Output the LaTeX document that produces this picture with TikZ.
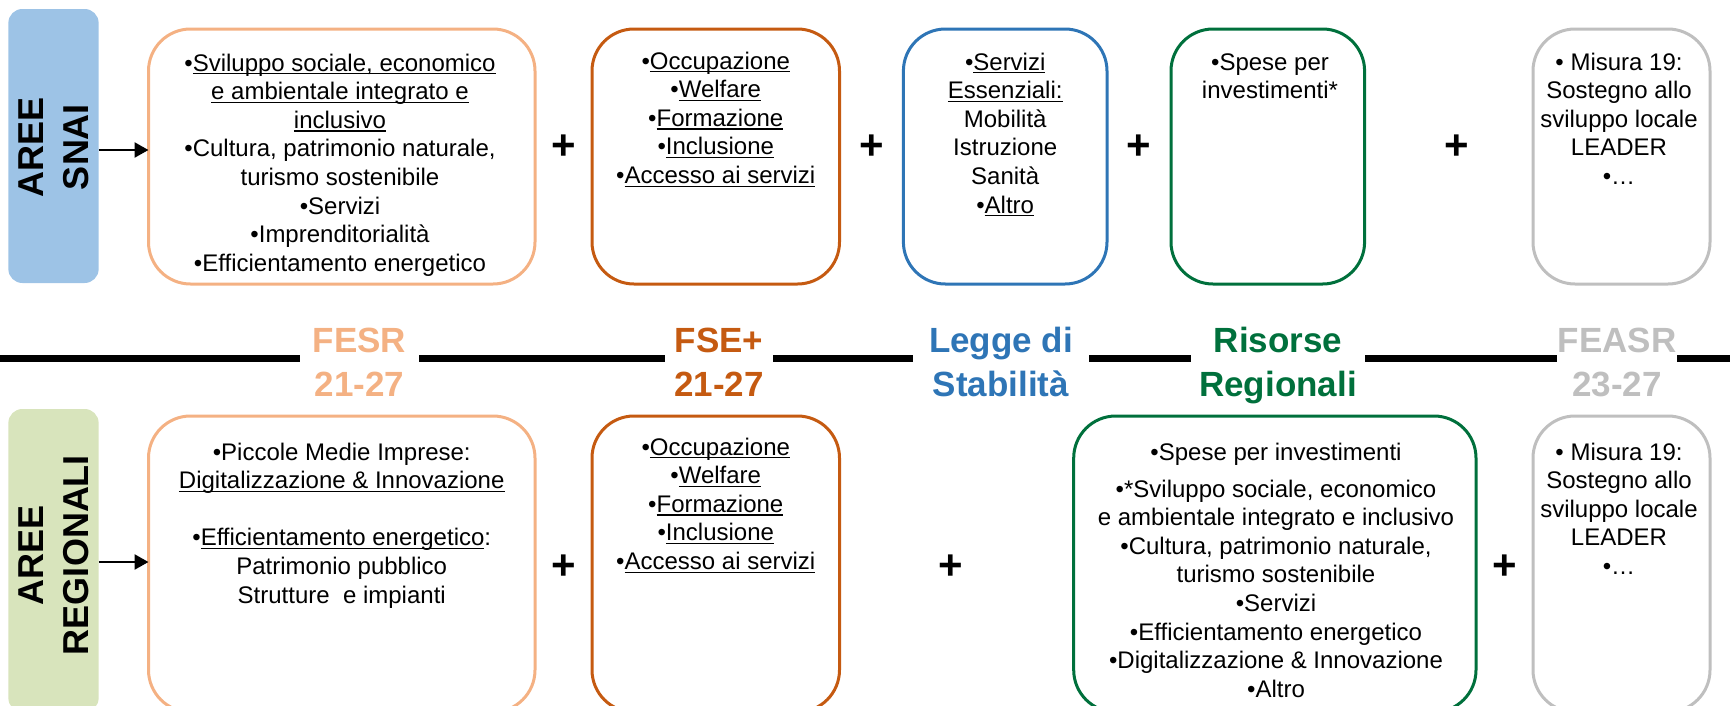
\documentclass[tikz,border=0pt]{standalone}
\usepackage{fontspec}
\setmainfont{Liberation Sans}
\usetikzlibrary{arrows.meta}
\definecolor{cfesr}{RGB}{244,177,131}
\definecolor{cfse}{RGB}{197,90,17}
\definecolor{clegge}{RGB}{46,117,182}
\definecolor{cris}{RGB}{0,112,60}
\definecolor{cfeasr}{RGB}{191,191,191}
\definecolor{csnai}{RGB}{157,195,230}
\definecolor{creg}{RGB}{216,228,188}
\newcommand{\bodyf}{\fontsize{24}{28.6}\selectfont}
\newcommand{\labf}{\fontsize{35}{44}\selectfont\bfseries}
\newcommand{\sidef}{\fontsize{36}{45}\selectfont\bfseries}
\newcommand{\plusf}{\fontsize{42}{42}\selectfont\bfseries}
\newcommand{\ulx}[1]{\leavevmode\setbox0=\hbox{#1}\rlap{\rule[-3.4pt]{\wd0}{1.3pt}}\box0}
\tikzset{
  every node/.style={inner sep=0pt, outer sep=0pt},
  fundbox/.style={draw=#1, line width=3pt, rounded corners=42pt},
  sidebox/.style={fill=#1, draw=none, rounded corners=14pt},
  bodytext/.style={anchor=north, align=center, font=\bodyf, text=black},
  fundlabel/.style={fill=white, align=center, font=\labf, text=#1},
  sidelabel/.style={rotate=90, align=center, font=\sidef, text=black},
  plussign/.style={font=\plusf, text=black},
  arr/.style={line width=2.5pt, -{Triangle[length=14pt,width=15pt]}},
  midline/.style={line width=7pt, draw=black},
}
\begin{document}
\begin{tikzpicture}[x=1pt,y=-1pt]
\useasboundingbox (0,0) rectangle (1730,705);
\clip (0,0) rectangle (1730,705);

% middle line and fund labels
\coordinate (lineL) at (0,358);
\coordinate (lineR) at (1730,358);
\draw[midline] (lineL) -- (lineR);
\node[fundlabel=cfesr, minimum width=119pt] (labFESR) at (359.5,365.2) {\strut FESR\\21-27\strut};
\node[fundlabel=cfse, minimum width=108pt] (labFSE) at (719,365.2) {\strut FSE+\\21-27\strut};
\node[fundlabel=clegge, minimum width=176pt] (labLEGGE) at (1001,365.2) {\strut Legge di\\Stabilità\strut};
\node[fundlabel=cris, minimum width=174pt] (labRIS) at (1278,365.2) {\strut Risorse\\Regionali\strut};
\node[fundlabel=cfeasr, minimum width=120pt] (labFEASR) at (1617,365.2) {\strut FEASR\\23-27\strut};

% side boxes
\node[sidebox=csnai, minimum width=90.3pt, minimum height=274pt] (snai) at (53.5,146) {};
\node[sidelabel] (snaiLab) at (54,147) {AREE\\SNAI};
\node[sidebox=creg, minimum width=90.3pt, minimum height=303pt] (reg) at (53.5,560.5) {};
\node[sidelabel] (regLab) at (54,555) {AREE\\REGIONALI};

\coordinate (rowA) at (0,150);
\coordinate (rowB) at (0,562);

% top row boxes
\node[fundbox=cfesr, minimum width=386.5pt, minimum height=255pt] (fesrT) at (341.75,156.5) {};
\node[fundbox=cfse, minimum width=247.5pt, minimum height=255pt] (fseT) at (715.75,156.5) {};
\node[fundbox=clegge, minimum width=203.6pt, minimum height=255pt] (leggeT) at (1005.2,156.5) {};
\node[fundbox=cris, minimum width=193.6pt, minimum height=255pt] (risT) at (1267.8,156.5) {};
\node[fundbox=cfeasr, minimum width=177pt, minimum height=255pt] (feasrT) at (1621.5,156.5) {};

\node[bodytext] (fesrTt) at (340,50.98) {\strut•\ulx{Sviluppo sociale, economico}\\\ulx{e ambientale integrato e}\\\ulx{inclusivo}\\•Cultura, patrimonio naturale,\\turismo sostenibile\\•Servizi\\•Imprenditorialità\\•Efficientamento energetico};
\node[bodytext] (fseTt) at (715.75,48.98) {\strut•\ulx{Occupazione}\\•\ulx{Welfare}\\•\ulx{Formazione}\\•\ulx{Inclusione}\\•\ulx{Accesso ai servizi}};
\node[bodytext] (leggeTt) at (1005.2,49.98) {\strut•\ulx{Servizi}\\\ulx{Essenziali:}\\Mobilità\\Istruzione\\Sanità\\•\ulx{Altro}};
\node[bodytext] (risTt) at (1270,49.98) {\strut•Spese per\\investimenti*};
\node[bodytext] (feasrTt) at (1619,49.98) {\strut• Misura 19:\\Sostegno allo\\sviluppo locale\\LEADER\\•…};

\node[plussign] (pT1) at (563.5,147.3) {+};
\node[plussign] (pT2) at (871.5,147.3) {+};
\node[plussign] (pT3) at (1139,147.3) {+};
\node[plussign] (pT4) at (1457,147.3) {+};

% bottom row boxes
\node[fundbox=cfesr, minimum width=386.5pt, minimum height=296pt] (fesrB) at (341.75,564) {};
\node[fundbox=cfse, minimum width=247.5pt, minimum height=296pt] (fseB) at (715.75,564) {};
\node[fundbox=cris, minimum width=402.3pt, minimum height=296pt] (risB) at (1274.85,564) {};
\node[fundbox=cfeasr, minimum width=177pt, minimum height=296pt] (feasrB) at (1621.5,564) {};

\node[bodytext] (fesrBt) at (341.75,439.98) {\strut•Piccole Medie Imprese:\\\ulx{Digitalizzazione \& Innovazione}\\\strut\\•\ulx{Efficientamento energetico}:\\Patrimonio pubblico\\Strutture\ \ e impianti};
\node[bodytext] (fseBt) at (715.75,434.98) {\strut•\ulx{Occupazione}\\•\ulx{Welfare}\\•\ulx{Formazione}\\•\ulx{Inclusione}\\•\ulx{Accesso ai servizi}};
\node[bodytext] (risBt) at (1276,439.98) {\strut•Spese per investimenti\\[8.4pt]•*Sviluppo sociale, economico\\e ambientale integrato e inclusivo\\•Cultura, patrimonio naturale,\\turismo sostenibile\\•Servizi\\•Efficientamento energetico\\•Digitalizzazione \& Innovazione\\•Altro};
\node[bodytext] (feasrBt) at (1619,439.98) {\strut• Misura 19:\\Sostegno allo\\sviluppo locale\\LEADER\\•…};

\node[plussign] (pB1) at (563.5,567.3) {+};
\node[plussign] (pB2) at (951,567.3) {+};
\node[plussign] (pB3) at (1505,567.3) {+};

% arrows
\draw[arr] (snai.east |- rowA) -- (fesrT.west |- rowA);
\draw[arr] (reg.east |- rowB) -- (fesrB.west |- rowB);
\end{tikzpicture}
\end{document}
